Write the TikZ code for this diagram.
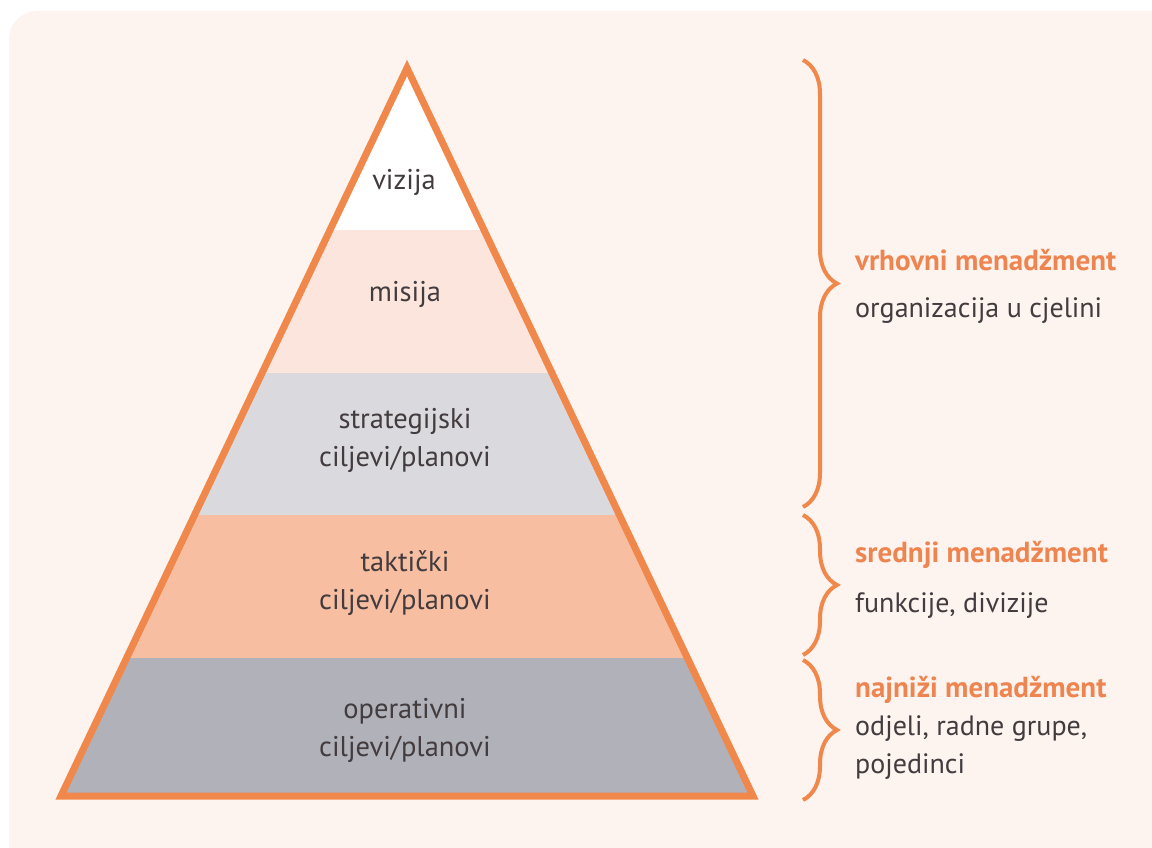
\documentclass[tikz,border=0pt]{standalone}
\usepackage{fontspec}
\setmainfont{PT Sans}
\usetikzlibrary{decorations.pathreplacing}
\definecolor{bgpeach}{HTML}{FDF4F0}
\definecolor{pyrorange}{HTML}{F0874B}
\definecolor{misijac}{HTML}{FBE5DD}
\definecolor{stratc}{HTML}{DADADE}
\definecolor{taktc}{HTML}{F8BEA2}
\definecolor{operc}{HTML}{B1B2B9}
\definecolor{txtdark}{HTML}{433C3F}
\definecolor{txtorange}{HTML}{EE8550}
\begin{document}
\begin{tikzpicture}[x=1pt,y=-1pt,
  lvltext/.style={align=center, text=txtdark, font=\fontsize{28.5}{38}\selectfont, inner sep=0pt},
  mgrhead/.style={anchor=base west, text=txtorange, font=\fontsize{29}{34}\selectfont\bfseries, inner sep=0pt},
  mgrtext/.style={anchor=base west, text=txtdark, font=\fontsize{28}{38}\selectfont, inner sep=0pt},
  bracestyle/.style={draw=pyrorange, line width=4pt, decorate, decoration={brace, amplitude=34pt}}]
\useasboundingbox (0,0) rectangle (1152,848);
\fill[white] (0,0) rectangle (1152,848);
\fill[bgpeach, rounded corners=28pt] (9,11) rectangle (1190,890);
\coordinate (apex) at (407,68);
\coordinate (bl) at (61,796);
\coordinate (br) at (753,796);
\begin{scope}
\clip (apex) -- (bl) -- (br) -- cycle;
\fill[white] (0,0) rectangle (1152,230);
\fill[misijac] (0,230) rectangle (1152,373);
\fill[stratc] (0,373) rectangle (1152,515);
\fill[taktc] (0,515) rectangle (1152,658);
\fill[operc] (0,658) rectangle (1152,800);
\end{scope}
\draw[pyrorange, line width=7pt, line join=miter] (apex) -- (bl) -- (br) -- cycle;
% level texts
\node[lvltext] (vizija) at (404,182) {vizija};
\node[lvltext] (misija) at (405,294) {misija};
\node[lvltext] (strat) at (405,440) {strategijski\\ciljevi/planovi};
\node[lvltext] (takt) at (405,583) {taktički\\ciljevi/planovi};
\node[lvltext] (oper) at (405,730) {operativni\\ciljevi/planovi};
% braces
\coordinate (b1t) at (803,60);
\coordinate (b1b) at (803,507);
\coordinate (b2t) at (803,515);
\coordinate (b2b) at (803,655);
\coordinate (b3t) at (803,660);
\coordinate (b3b) at (803,800);
\draw[bracestyle] (b1t) -- (b1b);
\draw[bracestyle] (b2t) -- (b2b);
\draw[bracestyle] (b3t) -- (b3b);
% management labels
\node[mgrhead] (vrh) at (855,270) {vrhovni menadžment};
\node[mgrtext] (vrhd) at (855,317) {organizacija u cjelini};
\node[mgrhead] (sred) at (855,562) {srednji menadžment};
\node[mgrtext] (sredd) at (855,612) {funkcije, divizije};
\node[mgrhead] (najn) at (855,697) {najniži menadžment};
\node[mgrtext] (najnd1) at (855,735) {odjeli, radne grupe,};
\node[mgrtext] (najnd2) at (855,773) {pojedinci};
\end{tikzpicture}
\end{document}
